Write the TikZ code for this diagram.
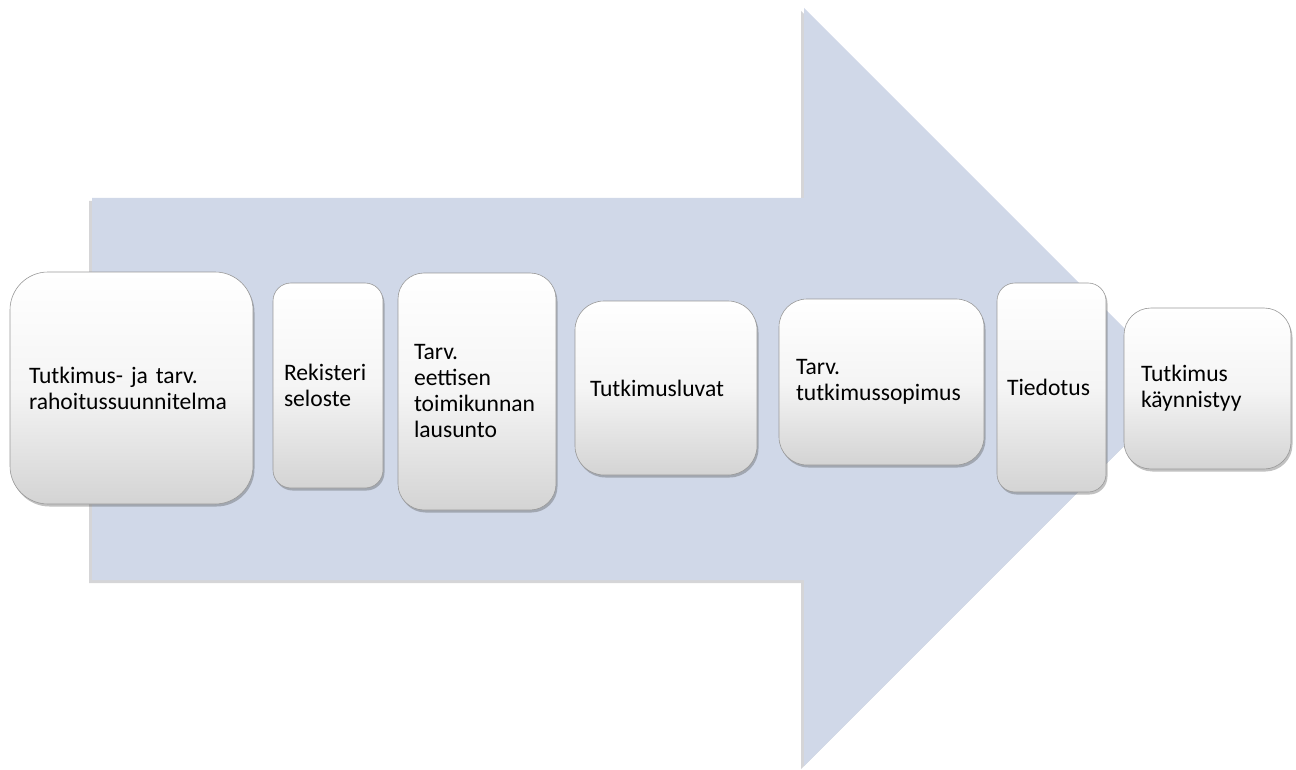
\documentclass[tikz,border=0pt]{standalone}
\usepackage{fontspec}
\setmainfont{Carlito}
\usetikzlibrary{shadows}
\definecolor{arrowfill}{RGB}{208,216,232}
\definecolor{arrowshadow}{RGB}{150,150,155}
\hyphenpenalty=10000
\exhyphenpenalty=10000
\tikzset{
  stepbox/.style={rectangle, draw=black!40, line width=0.6pt,
    top color=white, bottom color=black!17, middle color=white!96!black,
    align=left, inner ysep=0pt,
    font=\fontsize{23.6}{26}\selectfont,
    drop shadow={shadow xshift=1.5pt, shadow yshift=-2.5pt, opacity=0.35, fill=black!70}},
}
\begin{document}
\begin{tikzpicture}[x=1pt,y=-1pt]
\useasboundingbox (0,0) rectangle (1296,770);
% big arrow shadow
\fill[arrowshadow, opacity=0.4] (89,201) -- (801,201) -- (801,11) -- (1180,390) -- (801,769) -- (801,583) -- (89,583) -- cycle;
% big arrow
\fill[arrowfill] (92,198) -- (804,198) -- (804,8) -- (1183,387) -- (804,766) -- (804,580) -- (92,580) -- cycle;
% steps
\node[stepbox, rounded corners=38pt, minimum height=232pt, inner xsep=19pt, text width=205pt] (s1) at (131.5,388)
  {Tutkimus- ja tarv.\\rahoitussuunnitelma};
\node[stepbox, rounded corners=18pt, minimum height=205pt, inner xsep=11pt, text width=88pt] (s2) at (328,385.5)
  {Rekisteri\\seloste};
\node[stepbox, rounded corners=26pt, minimum height=237pt, inner xsep=16pt, text width=126pt] (s3) at (477,391.5)
  {Tarv.\\eettisen\\toimikunnan\\lausunto};
\node[stepbox, rounded corners=29pt, minimum height=174pt, inner xsep=15pt, text width=152pt] (s4) at (666,388)
  {Tutkimusluvat};
\node[stepbox, rounded corners=28pt, minimum height=166pt, inner xsep=17pt, text width=171pt] (s5) at (881.5,382)
  {Tarv.\\tutkimussopimus};
\node[stepbox, rounded corners=18pt, minimum height=209pt, inner xsep=10pt, text width=89pt] (s6) at (1051.5,387.5)
  {Tiedotus};
\node[stepbox, rounded corners=27pt, minimum height=161pt, inner xsep=17pt, text width=133pt] (s7) at (1207.5,388.5)
  {Tutkimus\\käynnistyy};
\end{tikzpicture}
\end{document}
